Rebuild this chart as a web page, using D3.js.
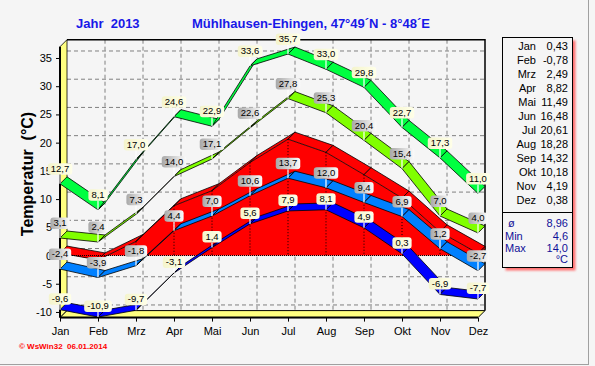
<!DOCTYPE html>
<html>
<head>
<meta charset="utf-8">
<script src="https://cdnjs.cloudflare.com/ajax/libs/d3/7.8.5/d3.min.js"></script>
<style>
  body { margin: 0; background: #f5f5f5; }
  svg { display: block; font-family: "Liberation Sans", Arial, sans-serif; }
  text { white-space: pre; }
</style>
</head>
<body>
<div id="chart"></div>
<script>
const months = ["Jan", "Feb", "Mrz", "Apr", "Mai", "Jun", "Jul", "Aug", "Sep", "Okt", "Nov", "Dez"];
const absMax = [12.7, 8.1, 17.0, 24.6, 22.9, 33.6, 35.7, 33.0, 29.8, 22.7, 17.3, 11.0];
const meanMax = [3.1, 2.4, 7.3, 14.0, 17.1, 22.6, 27.8, 25.3, 20.4, 15.4, 7.0, 4.0];
const meanTemp = [0.43, -0.78, 2.49, 8.82, 11.49, 16.48, 20.61, 18.28, 14.32, 10.18, 4.19, 0.38];
const meanMin = [-2.4, -3.9, -1.8, 4.4, 7.0, 10.6, 13.7, 12.0, 9.4, 6.9, 1.2, -2.7];
const absMin = [-9.6, -10.9, -9.7, -3.1, 1.4, 5.6, 7.9, 8.1, 4.9, 0.3, -6.9, -7.7];
const yTicks = [-10, -5, 0, 5, 10, 15, 20, 25, 30, 35];
const summaryLabels = ["ø", "Min", "Max"];
const summaryValues = ["8,96", "4,6", "14,0"];

const w = 595;
const h = 366;
const depth = 7;   // 3D offset of the back wall
const fmt = (v, n) => v.toFixed(n).replace(".", ",");

const x = d3.scalePoint().domain(months).range([60, 478]);
const y = d3.scaleLinear().domain([-11, 37]).range([317.6, 46.7]);

const svg = d3.select("#chart").append("svg")
    .attr("width", w)
    .attr("height", h);

const defs = svg.append("defs");
const gray = defs.append("linearGradient").attr("id", "grayLbl");
gray.append("stop").attr("offset", "0%").attr("stop-color", "#a8a8a8");
gray.append("stop").attr("offset", "100%").attr("stop-color", "#fbfbfb");
const yel = defs.append("linearGradient").attr("id", "yelLbl");
yel.append("stop").attr("offset", "0%").attr("stop-color", "#f4f4cc");
yel.append("stop").attr("offset", "100%").attr("stop-color", "#ffffe8");
defs.append("filter").attr("id", "blur")
    .append("feGaussianBlur").attr("stdDeviation", 1.3);

// outer frame
svg.append("line").attr("x1", 588.5).attr("x2", 588.5).attr("y1", 0).attr("y2", 365)
    .attr("stroke", "#a0a0a0");
svg.append("line").attr("x1", 0).attr("x2", 589).attr("y1", 364.5).attr("y2", 364.5)
    .attr("stroke", "#a0a0a0");

// titles
svg.append("text").attr("x", 76).attr("y", 28)
    .attr("font-size", 13).attr("font-weight", "bold").attr("fill", "#1818e8")
    .text("Jahr  2013");
svg.append("text").attr("x", 192).attr("y", 28)
    .attr("font-size", 13).attr("font-weight", "bold").attr("fill", "#1818e8")
    .text("Mühlhausen-Ehingen, 47°49´N - 8°48´E");

svg.append("text")
    .attr("transform", "translate(33,174) rotate(-90)")
    .attr("text-anchor", "middle")
    .attr("font-size", 16).attr("font-weight", "bold")
    .text("Temperatur  (°C)");

svg.append("text").attr("x", 19).attr("y", 349)
    .attr("font-size", 8).attr("font-weight", "bold").attr("fill", "#ff0000")
    .text("© WsWin32  06.01.2014");

// back wall grid
const x0 = x(months[0]), x1 = x(months[11]);
const grid = svg.append("g").attr("stroke", "#808080").attr("stroke-dasharray", "4,3");
grid.selectAll("line.h").data(yTicks).enter().append("line")
    .attr("x1", x0 + depth).attr("x2", x1 + depth)
    .attr("y1", d => y(d) - depth).attr("y2", d => y(d) - depth);
grid.selectAll("line.v").data(months.slice(1, 11)).enter().append("line")
    .attr("x1", d => x(d) + depth).attr("x2", d => x(d) + depth)
    .attr("y1", y(37) - depth).attr("y2", y(-11) - depth);

// back wall border
svg.append("path")
    .attr("d", `M${x0 + depth},${y(37) - depth}H${x1 + depth}V${y(-11) - depth}`)
    .attr("fill", "none").attr("stroke", "#000").attr("stroke-width", 1.5);

// left wall
svg.append("path")
    .attr("d", `M${x0},${y(37)}L${x0 + depth},${y(37) - depth}V${y(-11) - depth}L${x0},${y(-11)}Z`)
    .attr("fill", "#ffff80").attr("stroke", "#000").attr("stroke-width", 0.8);

// floor
svg.append("path")
    .attr("d", `M${x0},${y(-11)}L${x0 + depth},${y(-11) - depth}H${x1 + depth}L${x1},${y(-11)}Z`)
    .attr("fill", "#ffff80").attr("stroke", "#000").attr("stroke-width", 1);

// mean temperature as red 3D area
const pts = v => v.map((d, i) => [x(months[i]), y(d)]);
const para = (a, b) => [a, b, [b[0] + depth, b[1] - depth], [a[0] + depth, a[1] - depth]];
const meanPts = pts(meanTemp);
const red = svg.append("g");
const last = meanPts[11];
red.append("polygon")
    .attr("points", [[last[0], y(0)], last, [last[0] + depth, last[1] - depth], [last[0] + depth, y(0) - depth]].join(" "))
    .attr("fill", "#ff0000").attr("stroke", "#000").attr("stroke-width", 0.8);
red.append("path")
    .attr("d", d3.area().x(d => d[0]).y0(y(0)).y1(d => d[1])(meanPts))
    .attr("fill", "#ff0000");
red.selectAll("polygon.top").data(d3.pairs(meanPts)).enter().append("polygon")
    .attr("points", d => para(d[0], d[1]).join(" "))
    .attr("fill", "#ff0000").attr("stroke", "#000").attr("stroke-width", 0.8);
red.selectAll("line.drop").data(meanPts).enter().append("line")
    .attr("x1", d => d[0]).attr("x2", d => d[0])
    .attr("y1", d => d[1]).attr("y2", y(0))
    .attr("stroke", "#000").attr("stroke-dasharray", "1,2");
red.append("line")
    .attr("x1", x0).attr("x2", x1).attr("y1", y(0)).attr("y2", y(0))
    .attr("stroke", "#000").attr("stroke-dasharray", "1,1");

// 3D ribbons
const series = [
    { values: absMin, color: "#0000ff", label: "url(#yelLbl)", gap: 5 },
    { values: meanMin, color: "#0080ff", label: "url(#grayLbl)", gap: 9 },
    { values: meanMax, color: "#80ff00", label: "url(#grayLbl)", gap: 9 },
    { values: absMax, color: "#00ff40", label: "url(#yelLbl)", gap: 9 }
];
series.forEach(s => {
    svg.append("g").selectAll("polygon").data(d3.pairs(pts(s.values))).enter().append("polygon")
        .attr("points", d => para(d[0], d[1]).join(" "))
        .attr("fill", s.color).attr("stroke", "#000").attr("stroke-width", 0.8);
});

// axes
const yAxis = svg.append("g")
    .attr("transform", "translate(" + x0 + ",0)")
    .call(d3.axisLeft(y).tickValues(yTicks).tickSize(4).tickPadding(4).tickFormat(d => String(d)));
yAxis.select(".domain").remove();
yAxis.selectAll("text").attr("font-size", 11).attr("font-family", null).attr("fill", "#000");

const xAxis = svg.append("g")
    .attr("transform", "translate(0," + y(-11) + ")")
    .call(d3.axisBottom(x).tickSize(4).tickPadding(6));
xAxis.select(".domain").remove();
xAxis.selectAll("text").attr("font-size", 11).attr("font-family", null).attr("fill", "#000");

// front edges
svg.append("line").attr("x1", x0).attr("x2", x0).attr("y1", y(37)).attr("y2", y(-11))
    .attr("stroke", "#000").attr("stroke-width", 2);
svg.append("line").attr("x1", x0).attr("x2", x1).attr("y1", y(-11)).attr("y2", y(-11))
    .attr("stroke", "#000").attr("stroke-width", 2);

// value labels
series.forEach(s => {
    const g = svg.append("g").selectAll("g").data(s.values).enter().append("g")
        .attr("transform", (d, i) => "translate(" + x(months[i]) + "," + y(d) + ")");
    g.append("line").attr("x1", 0).attr("x2", 0).attr("y1", -s.gap).attr("y2", 0)
        .attr("stroke", "#fff").attr("stroke-width", 1.2);
    g.append("text")
        .attr("y", -s.gap - 2.8)
        .attr("text-anchor", "middle")
        .attr("font-size", 9.5)
        .text(d => fmt(d, 1));
    g.insert("rect", "text")
        .each(function () {
            const bw = this.parentNode.querySelector("text").getComputedTextLength() + 6;
            d3.select(this).attr("x", -bw / 2).attr("width", bw);
        })
        .attr("y", -s.gap - 11.5).attr("height", 11.5)
        .attr("rx", 3)
        .attr("fill", s.label);
});

// summary table
const tx = 502.5, ty = 37.5, tw = 70, th = 230;
svg.append("rect").attr("x", tx + 3).attr("y", ty + 3).attr("width", tw).attr("height", th)
    .attr("fill", "#ff7070").attr("filter", "url(#blur)");
svg.append("rect").attr("x", tx).attr("y", ty).attr("width", tw).attr("height", th)
    .attr("fill", "#f5f5f5").attr("stroke", "#000");
svg.append("line").attr("x1", tx).attr("x2", tx + tw).attr("y1", 212.5).attr("y2", 212.5)
    .attr("stroke", "#000");
const rows = svg.append("g").attr("font-size", 11).attr("text-anchor", "end");
rows.selectAll("text.m").data(months).enter().append("text")
    .attr("x", 536).attr("y", (d, i) => 50 + i * 14)
    .text(d => d);
rows.selectAll("text.v").data(meanTemp).enter().append("text")
    .attr("x", 568).attr("y", (d, i) => 50 + i * 14)
    .text(d => fmt(d, 2));
const sumY = [227, 240, 252];
const sum = svg.append("g").attr("font-size", 11).attr("fill", "#101098");
sum.selectAll("text.l").data(summaryLabels).enter().append("text")
    .attr("x", (d, i) => i === 0 ? 508 : 505).attr("y", (d, i) => sumY[i])
    .text(d => d);
sum.selectAll("text.r").data(summaryValues).enter().append("text")
    .attr("x", 568).attr("y", (d, i) => sumY[i]).attr("text-anchor", "end")
    .text(d => d);
sum.append("text").attr("x", 568).attr("y", 263).attr("text-anchor", "end").text("°C");
</script>
</body>
</html>
